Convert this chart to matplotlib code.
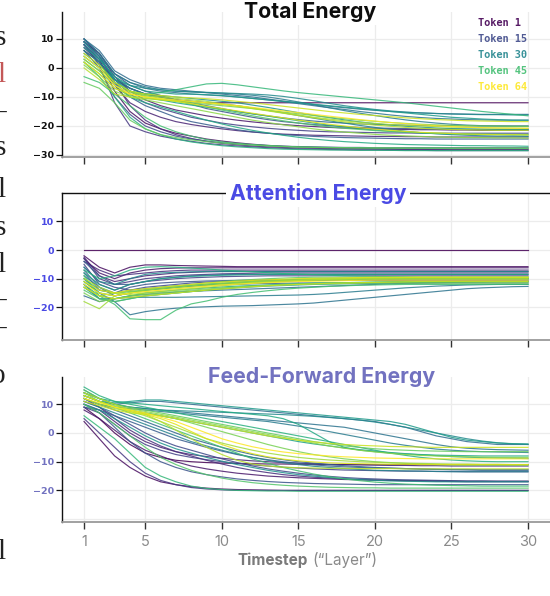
import matplotlib
matplotlib.use("Agg")
import matplotlib.pyplot as plt

# ---------------- data ----------------
LAYERS = list(range(1, 31))
TOKENS = [1, 3, 5, 7, 9, 11, 13, 15, 17, 19, 21, 23, 25, 27, 29, 31,
          33, 35, 37, 39, 41, 43, 45, 47, 49, 51, 53, 55, 57, 59, 61, 64]

TOTAL = [
    [6, 2, -4, -7, -9, -10, -11, -11.5, -12, -12, -12, -12, -12, -12, -12, -12, -12, -12, -12, -12, -12, -12, -12, -12, -12, -12, -12, -12, -12, -12],
    [8, 3, -8, -15, -19, -21, -22.5, -23.5, -24.5, -25.2, -25.8, -26.3, -26.7, -27, -27.2, -27.4, -27.5, -27.6, -27.7, -27.8, -27.8, -27.9, -27.9, -28, -28, -28, -28, -28, -28, -28],
    [9, 5, -3, -8, -11, -13, -14.5, -15.5, -16.5, -17.3, -18, -18.6, -19.1, -19.5, -19.9, -20.2, -20.5, -20.7, -20.9, -21, -21.1, -21.2, -21.3, -21.3, -21.4, -21.4, -21.5, -21.5, -21.5, -21.5],
    [7, 2, -6, -12, -15, -17, -18.5, -19.5, -20.3, -21, -21.6, -22.1, -22.5, -22.8, -23, -23.2, -23.3, -23.4, -23.5, -23.6, -23.6, -23.7, -23.7, -23.8, -23.8, -23.8, -23.8, -23.8, -23.8, -23.8],
    [10, 4, -5, -13, -18, -21, -23, -24.3, -25.3, -26, -26.5, -26.9, -27.2, -27.4, -27.6, -27.7, -27.8, -27.9, -28, -28, -28.1, -28.1, -28.1, -28.2, -28.2, -28.2, -28.2, -28.2, -28.2, -28.2],
    [8, 1, -12, -20, -22, -23.5, -24.5, -25.3, -26, -26.5, -26.9, -27.2, -27.5, -27.7, -27.9, -28, -28.1, -28.2, -28.3, -28.3, -28.4, -28.4, -28.4, -28.5, -28.5, -28.5, -28.5, -28.5, -28.5, -28.5],
    [9, 4, -4, -9, -12, -14, -15.5, -17, -18, -19, -19.7, -20.3, -20.8, -21.2, -21.5, -21.8, -22, -22.1, -22.2, -22.3, -22.4, -22.4, -22.5, -22.5, -22.5, -22.5, -22.5, -22.5, -22.5, -22.5],
    [6, 0, -10, -16, -20, -22, -23.5, -24.5, -25.2, -25.8, -26.2, -26.5, -26.8, -27, -27.1, -27.2, -27.3, -27.4, -27.4, -27.5, -27.5, -27.5, -27.5, -27.5, -27.5, -27.5, -27.5, -27.5, -27.5, -27.5],
    [10, 5, -2, -6, -8, -9.5, -11, -12.5, -14, -15, -16, -17, -17.8, -18.5, -19, -19.5, -19.9, -20.2, -20.5, -20.7, -20.8, -20.9, -21, -21.1, -21.1, -21.2, -21.2, -21.2, -21.2, -21.2],
    [8, 2, -5, -10, -13, -15, -17, -18.5, -19.5, -20.5, -21.3, -22, -22.5, -23, -23.3, -23.6, -23.8, -24, -24.1, -24.2, -24.3, -24.4, -24.4, -24.5, -24.5, -24.5, -24.5, -24.5, -24.5, -24.5],
    [9, 3, -4, -7, -9, -10, -11, -12, -13, -14, -15, -15.8, -16.5, -17.2, -17.8, -18.3, -18.7, -19, -19.3, -19.5, -19.6, -19.7, -19.8, -19.9, -19.9, -20, -20, -20, -20, -20],
    [10, 6, -1, -4, -6, -7, -7.5, -8, -8.5, -9, -9.5, -10, -10.7, -11.4, -12, -12.6, -13.2, -13.7, -14.2, -14.6, -15, -15.3, -15.5, -15.7, -15.8, -15.9, -16, -16, -16, -16],
    [9, 4, -2, -5, -7, -8, -8.5, -9, -9.3, -9.6, -10, -10.5, -11, -11.6, -12.3, -13, -13.7, -14.3, -15, -15.6, -16.2, -16.7, -17.1, -17.4, -17.6, -17.8, -17.9, -18, -18, -18],
    [10, 5, -2, -5, -6.5, -7.5, -8, -8.3, -8.5, -8.7, -9, -9.4, -10, -10.8, -11.7, -12.7, -13.7, -14.7, -15.6, -16.4, -17.2, -17.9, -18.5, -19, -19.4, -19.7, -19.9, -20, -20.1, -20.1],
    [8, 3, -3, -7, -9, -10, -11, -11.5, -12, -12.5, -13, -13.8, -14.6, -15.5, -16.4, -17.3, -18.2, -19, -19.8, -20.5, -21.2, -21.8, -22.3, -22.7, -23, -23.2, -23.4, -23.5, -23.5, -23.6],
    [9, 4, -4, -6, -7, -7.5, -8, -8.2, -8.4, -8.6, -8.8, -9, -9.3, -9.8, -10.5, -11.3, -12.2, -13, -13.7, -14.3, -14.8, -15.2, -15.5, -15.7, -15.9, -16, -16.1, -16.1, -16.2, -16.2],
    [6, 2, -5, -8, -9, -9.5, -10, -10.5, -11, -11.5, -12, -12.8, -13.6, -14.5, -15.4, -16.3, -17.1, -17.9, -18.6, -19.2, -19.7, -20.1, -20.4, -20.7, -20.9, -21, -21.1, -21.2, -21.2, -21.2],
    [7, 3, -3, -6, -8, -8.5, -9, -9, -9.2, -9.5, -10, -10.5, -11, -11.5, -12, -12.5, -13, -13.5, -14, -14.5, -15, -15.5, -16, -16.5, -17, -17.3, -17.6, -17.8, -18, -18],
    [5, 1, -4, -8, -10, -11, -12, -12.8, -13.5, -14.2, -15, -15.8, -16.6, -17.4, -18.2, -19, -19.7, -20.3, -20.9, -21.4, -21.8, -22.1, -22.4, -22.6, -22.8, -22.9, -23, -23, -23.1, -23.1],
    [3, -1, -6, -10, -12, -13.5, -15, -16.5, -18, -19.3, -20.5, -21.5, -22.4, -23.2, -23.9, -24.5, -25, -25.4, -25.7, -26, -26.2, -26.4, -26.5, -26.6, -26.7, -26.8, -26.8, -26.9, -26.9, -27],
    [2, -3, -10, -17, -21, -23, -24.5, -25.5, -26.2, -26.8, -27.2, -27.5, -27.8, -28, -28.1, -28.2, -28.3, -28.3, -28.4, -28.4, -28.4, -28.5, -28.5, -28.5, -28.5, -28.5, -28.5, -28.5, -28.5, -28.5],
    [4, 0, -5, -8, -9, -8.5, -7.5, -6.5, -5.5, -5.3, -5.8, -6.5, -7.2, -7.9, -8.5, -9, -9.5, -10, -10.5, -11, -11.5, -12, -12.6, -13.2, -13.8, -14.4, -15, -15.5, -16, -16.5],
    [-3, -5, -9, -13, -17, -20, -22, -23.5, -24.7, -25.5, -26, -26.4, -26.7, -27, -27.2, -27.3, -27.4, -27.5, -27.5, -27.6, -27.6, -27.7, -27.7, -27.7, -27.8, -27.8, -27.8, -27.8, -27.8, -27.8],
    [4, 0, -5, -8, -9.5, -10.5, -11.5, -12.5, -13.5, -14.5, -15.5, -16.5, -17.4, -18.2, -19, -19.7, -20.3, -20.8, -21.2, -21.6, -21.9, -22.1, -22.3, -22.5, -22.6, -22.7, -22.8, -22.8, -22.9, -22.9],
    [-5, -7, -12, -18, -21, -23, -24, -24.8, -25.4, -25.9, -26.3, -26.6, -26.9, -27.1, -27.3, -27.4, -27.5, -27.5, -27.6, -27.6, -27.6, -27.6, -27.6, -27.6, -27.6, -27.6, -27.6, -27.6, -27.6, -27.6],
    [2, -2, -7, -9.5, -10.5, -11, -11.5, -12, -12.5, -13, -13.5, -14, -14.6, -15.2, -15.8, -16.4, -17, -17.5, -18, -18.4, -18.8, -19.1, -19.4, -19.6, -19.8, -19.9, -20, -20, -20.1, -20.1],
    [1, -3, -8, -10, -11, -12, -13, -14, -15, -16, -17, -18, -18.8, -19.6, -20.3, -21, -21.6, -22.1, -22.5, -22.9, -23.2, -23.4, -23.6, -23.8, -23.9, -24, -24, -24.1, -24.1, -24.2],
    [3, -1, -6, -8.5, -9.5, -10, -10.5, -11, -11.5, -12.3, -13, -13.8, -14.6, -15.4, -16.2, -17, -17.6, -18.2, -18.7, -19.1, -19.5, -19.8, -20, -20.2, -20.4, -20.5, -20.6, -20.7, -20.7, -20.8],
    [0, -4, -9, -10, -10.5, -11, -11.3, -11.6, -12, -12.5, -13.2, -14, -14.8, -15.6, -16.4, -17.2, -17.9, -18.6, -19.2, -19.7, -20.1, -20.5, -20.8, -21, -21.2, -21.3, -21.4, -21.5, -21.5, -21.5],
    [5, 1, -5, -8, -9, -9.5, -10, -10.3, -10.6, -11, -11.5, -12, -12.6, -13.2, -13.8, -14.4, -15, -15.5, -16, -16.4, -16.8, -17.2, -17.5, -17.8, -18, -18.2, -18.3, -18.4, -18.5, -18.5],
    [2, -2, -7, -9, -10, -10.8, -11.5, -12.3, -13.2, -14, -14.8, -15.6, -16.4, -17.2, -18, -18.7, -19.4, -20, -20.6, -21.1, -21.5, -21.9, -22.2, -22.4, -22.6, -22.8, -22.9, -23, -23, -23.1],
    [4, 0, -6, -9, -10, -10.5, -11, -11.5, -12, -12.5, -13, -13.6, -14.2, -14.8, -15.4, -16, -16.6, -17.2, -17.8, -18.3, -18.8, -19.2, -19.6, -19.9, -20.2, -20.4, -20.6, -20.7, -20.8, -20.8],
]

ATTN = [
    [0, 0, 0, 0, 0, 0, 0, 0, 0, 0, 0, 0, 0, 0, 0, 0, 0, 0, 0, 0, 0, 0, 0, 0, 0, 0, 0, 0, 0, 0],
    [-2, -6, -8, -6, -5.2, -5.2, -5.4, -5.5, -5.6, -5.7, -5.8, -5.8, -5.8, -5.8, -5.8, -5.8, -5.8, -5.8, -5.8, -5.8, -5.8, -5.8, -5.8, -5.8, -5.8, -5.8, -5.8, -5.8, -5.8, -5.8],
    [-3, -8, -10, -8, -7, -6.5, -6.3, -6.2, -6.2, -6.2, -6.2, -6.2, -6.2, -6.2, -6.2, -6.2, -6.2, -6.2, -6.2, -6.2, -6.2, -6.2, -6.2, -6.2, -6.2, -6.2, -6.2, -6.2, -6.2, -6.2],
    [-2.5, -9, -11, -10, -9, -8.5, -8, -7.8, -7.6, -7.5, -7.5, -7.5, -7.5, -7.5, -7.5, -7.5, -7.5, -7.5, -7.5, -7.5, -7.5, -7.5, -7.5, -7.5, -7.5, -7.5, -7.5, -7.5, -7.5, -7.5],
    [-4, -7, -9, -8.5, -8, -7.5, -7.2, -7, -7, -7, -7, -7, -7, -7, -7, -7, -7, -7, -7, -7, -7, -7, -7, -7, -7, -7, -7, -7, -7, -7],
    [-3, -10, -12, -11, -10, -9.5, -9, -8.7, -8.5, -8.3, -8.2, -8.1, -8, -8, -8, -8, -8, -8, -8, -8, -8, -8, -8, -8, -8, -8, -8, -8, -8, -8],
    [-5, -12, -14, -12, -11, -10.5, -10, -9.7, -9.5, -9.3, -9.2, -9.1, -9, -9, -9, -9, -9, -9, -9, -9, -9, -9, -9, -9, -9, -9, -9, -9, -9, -9],
    [-6, -11, -13, -14, -13, -12.5, -12, -11.5, -11.2, -11, -10.8, -10.7, -10.6, -10.5, -10.5, -10.5, -10.5, -10.5, -10.5, -10.5, -10.5, -10.5, -10.5, -10.5, -10.5, -10.5, -10.5, -10.5, -10.5, -10.5],
    [-8, -14, -15, -13, -12, -11.5, -11.2, -11, -10.8, -10.7, -10.6, -10.5, -10.5, -10.5, -10.5, -10.5, -10.5, -10.5, -10.5, -10.5, -10.5, -10.5, -10.5, -10.5, -10.5, -10.5, -10.5, -10.5, -10.5, -10.5],
    [-4, -9, -12, -12, -11, -10, -9.5, -9, -8.8, -8.6, -8.5, -8.5, -8.5, -8.5, -8.5, -8.5, -8.5, -8.5, -8.5, -8.5, -8.5, -8.5, -8.5, -8.5, -8.5, -8.5, -8.5, -8.5, -8.5, -8.5],
    [-7, -13, -16, -15, -14, -13.5, -13, -12.7, -12.4, -12.2, -12, -11.8, -11.7, -11.6, -11.5, -11.5, -11.5, -11.5, -11.5, -11.5, -11.5, -11.5, -11.5, -11.5, -11.5, -11.5, -11.5, -11.5, -11.5, -11.5],
    [-16, -18, -17, -16, -15.5, -15, -14.7, -14.4, -14.2, -14, -13.8, -13.6, -13.4, -13.2, -13, -12.8, -12.6, -12.4, -12.2, -12, -11.8, -11.6, -11.5, -11.4, -11.3, -11.2, -11.1, -11, -11, -11],
    [-10, -15, -18, -22.6, -21.5, -20.8, -20.3, -20, -19.8, -19.6, -19.5, -19.4, -19.2, -19, -18.8, -18.5, -18, -17.5, -17, -16.5, -16, -15.5, -15, -14.5, -14, -13.5, -13.2, -13, -12.8, -12.7],
    [-12, -17, -17, -16.5, -16.5, -16.5, -16.5, -16.4, -16.3, -16.2, -16.1, -16, -15.9, -15.8, -15.7, -15.5, -15.2, -14.8, -14.4, -14, -13.6, -13.2, -12.9, -12.6, -12.4, -12.2, -12.1, -12, -12, -12],
    [-9, -13, -15, -14, -13.5, -13, -12.5, -12.2, -12, -11.8, -11.6, -11.4, -11.2, -11, -10.8, -10.6, -10.5, -10.4, -10.3, -10.2, -10.1, -10, -10, -10, -10, -10, -10, -10, -10, -10],
    [-6, -11, -12, -10, -8.5, -8, -7.8, -7.6, -7.5, -7.5, -7.5, -7.5, -7.5, -7.5, -7.5, -7.5, -7.5, -7.5, -7.5, -7.5, -7.5, -7.5, -7.5, -7.5, -7.5, -7.5, -7.5, -7.5, -7.5, -7.5],
    [-11, -15, -16, -15, -14, -13.5, -13, -12.5, -12, -11.7, -11.4, -11.2, -11, -10.8, -10.6, -10.5, -10.4, -10.3, -10.2, -10.1, -10, -10, -10, -10, -10, -10, -10, -10, -10, -10],
    [-13, -17, -18, -17, -16, -15.5, -15, -14.5, -14, -13.6, -13.2, -12.9, -12.6, -12.4, -12.2, -12, -11.9, -11.8, -11.7, -11.6, -11.5, -11.4, -11.3, -11.2, -11.2, -11.1, -11.1, -11, -11, -11],
    [-8, -12, -14, -12, -11, -10, -9.5, -9.2, -9, -8.8, -8.7, -8.6, -8.5, -8.5, -8.5, -8.5, -8.5, -8.5, -8.5, -8.5, -8.5, -8.5, -8.5, -8.5, -8.5, -8.5, -8.5, -8.5, -8.5, -8.5],
    [-12, -16, -17, -16, -15, -14.5, -14, -13.6, -13.2, -12.9, -12.6, -12.4, -12.2, -12, -11.8, -11.6, -11.5, -11.4, -11.3, -11.2, -11.1, -11, -11, -11, -11, -11, -11, -11, -11, -11],
    [-7, -10, -9, -7, -6, -5.8, -6, -6.3, -6.6, -7, -7.3, -7.6, -7.9, -8.2, -8.4, -8.6, -8.8, -9, -9.1, -9.2, -9.3, -9.4, -9.5, -9.5, -9.5, -9.5, -9.5, -9.5, -9.5, -9.5],
    [-10, -14, -15, -14.5, -14, -13.5, -13, -12.5, -12, -11.6, -11.2, -10.9, -10.6, -10.4, -10.2, -10, -10, -10, -10, -10, -10, -10, -10, -10, -10, -10, -10, -10, -10, -10],
    [-9, -16, -19, -24, -24.3, -24.3, -21, -18.8, -17.8, -16.5, -15.5, -14.8, -14.2, -13.7, -13.3, -13, -12.7, -12.5, -12.3, -12.2, -12.1, -12, -12, -12, -12, -12, -12, -12, -12, -12],
    [-14, -17, -18, -17, -16, -15.5, -15, -14.5, -14, -13.5, -13, -12.6, -12.3, -12, -11.8, -11.6, -11.5, -11.4, -11.3, -11.2, -11.1, -11, -11, -11, -11, -11, -11, -11, -11, -11],
    [-11, -15, -16, -15, -14, -13, -12.5, -12, -11.5, -11, -10.6, -10.3, -10, -9.8, -9.6, -9.5, -9.5, -9.5, -9.5, -9.5, -9.5, -9.5, -9.5, -9.5, -9.5, -9.5, -9.5, -9.5, -9.5, -9.5],
    [-15, -18, -17, -16, -15.5, -15, -14.5, -14, -13.6, -13.2, -12.9, -12.6, -12.4, -12.2, -12, -11.9, -11.8, -11.7, -11.6, -11.5, -11.5, -11.5, -11.5, -11.5, -11.5, -11.5, -11.5, -11.5, -11.5, -11.5],
    [-13, -16, -15, -14.5, -14, -13.5, -13, -12.5, -12, -11.6, -11.3, -11, -10.8, -10.6, -10.4, -10.3, -10.2, -10.1, -10, -10, -10, -10, -10, -10, -10, -10, -10, -10, -10, -10],
    [-18, -20.5, -16, -15, -14.5, -14, -13.5, -13, -12.5, -12, -11.6, -11.3, -11, -10.8, -10.6, -10.5, -10.4, -10.3, -10.2, -10.1, -10, -10, -10, -10, -10, -10, -10, -10, -10, -10],
    [-10, -13, -15, -15.5, -15, -14.5, -14, -13.5, -13, -12.5, -12, -11.6, -11.2, -10.9, -10.6, -10.4, -10.2, -10, -9.9, -9.8, -9.7, -9.6, -9.5, -9.5, -9.5, -9.5, -9.5, -9.5, -9.5, -9.5],
    [-13, -16, -17, -16.5, -16, -15.5, -15, -14.5, -14, -13.6, -13.2, -12.8, -12.5, -12.2, -12, -11.8, -11.6, -11.5, -11.4, -11.3, -11.2, -11.1, -11, -11, -11, -11, -11, -11, -11, -11],
    [-11, -14, -15, -14, -13.5, -13, -12.5, -12, -11.5, -11.2, -10.9, -10.6, -10.4, -10.2, -10, -9.9, -9.8, -9.7, -9.6, -9.5, -9.5, -9.5, -9.5, -9.5, -9.5, -9.5, -9.5, -9.5, -9.5, -9.5],
    [-12, -15, -16, -15, -14.5, -14, -13.5, -13, -12.6, -12.2, -11.9, -11.6, -11.4, -11.2, -11, -10.9, -10.8, -10.7, -10.6, -10.5, -10.5, -10.5, -10.5, -10.5, -10.5, -10.5, -10.5, -10.5, -10.5, -10.5],
]

FF = [
    [9, 5, 0, -4, -7, -8.5, -9.5, -10, -10.3, -10.5, -10.6, -10.7, -10.8, -10.8, -10.9, -10.9, -11, -11, -11, -11, -11, -11, -11, -11, -11, -11, -11, -11, -11, -11],
    [4, -2, -8, -12, -15, -17, -18, -18.7, -19.2, -19.5, -19.7, -19.8, -19.9, -20, -20, -20, -20, -20, -20, -20, -20, -20, -20, -20, -20, -20, -20, -20, -20, -20],
    [8, 5, 1, -3, -6, -8, -10, -11.5, -12.5, -13.3, -14, -14.5, -15, -15.3, -15.6, -15.8, -16, -16.2, -16.3, -16.4, -16.5, -16.6, -16.6, -16.7, -16.7, -16.8, -16.8, -16.8, -16.8, -16.8],
    [10, 8, 4, 0, -3, -5, -6.5, -7.5, -8.2, -8.8, -9.3, -9.7, -10, -10.3, -10.5, -10.7, -10.9, -11, -11.1, -11.2, -11.3, -11.3, -11.4, -11.4, -11.5, -11.5, -11.5, -11.5, -11.5, -11.5],
    [12, 9, 5, 1, -2, -4.5, -6.5, -8, -9.5, -10.8, -12, -13, -13.8, -14.5, -15, -15.4, -15.7, -16, -16.2, -16.4, -16.5, -16.6, -16.7, -16.8, -16.9, -17, -17, -17, -17, -17],
    [5, 0, -5, -10, -14, -16.5, -18, -19, -19.5, -19.8, -20, -20, -20, -20, -20, -20, -20, -20, -20, -20, -20, -20, -20, -20, -20, -20, -20, -20, -20, -20],
    [9, 7, 3, -1, -4, -6, -7.5, -8.5, -9.3, -10, -10.6, -11.1, -11.5, -11.9, -12.2, -12.5, -12.7, -12.9, -13, -13.1, -13.2, -13.3, -13.3, -13.4, -13.4, -13.5, -13.5, -13.5, -13.5, -13.5],
    [11, 9, 6, 3, 0, -2.5, -4.5, -6, -7.5, -9, -10.3, -11.5, -12.5, -13.3, -14, -14.6, -15.1, -15.5, -15.8, -16, -16.2, -16.3, -16.4, -16.5, -16.6, -16.7, -16.7, -16.8, -16.8, -16.8],
    [10, 7, 2, -3, -7, -10, -12, -13.5, -14.5, -15.3, -16, -16.5, -16.9, -17.2, -17.4, -17.6, -17.7, -17.8, -17.9, -18, -18, -18, -18, -18, -18, -18, -18, -18, -18, -18],
    [9, 8, 6, 4, 2, 0, -2, -3.5, -5, -6.3, -7.5, -8.5, -9.3, -10, -10.6, -11.1, -11.5, -11.8, -12, -12.2, -12.3, -12.4, -12.5, -12.6, -12.7, -12.7, -12.8, -12.8, -12.8, -12.8],
    [12, 10, 8, 6, 4, 2, 0, -2, -3.5, -5, -6.3, -7.5, -8.5, -9.3, -10, -10.5, -11, -11.4, -11.7, -12, -12.2, -12.4, -12.6, -12.7, -12.8, -12.9, -13, -13, -13, -13],
    [13, 11, 10, 10.5, 11, 11, 10.5, 10, 9.5, 9, 8.5, 8, 7.5, 7, 6.5, 6, 5.5, 5, 4.5, 4, 3, 2, 0.5, -1, -2, -3, -3.5, -4, -4, -4],
    [14, 12, 10, 9, 8.5, 8, 7.5, 7, 6.5, 6, 5.5, 5, 4.5, 4, 3.5, 3, 2.5, 2, 1, 0, -1, -2, -3, -4, -4.8, -5.3, -5.6, -5.8, -5.9, -6],
    [12, 10, 9, 8.5, 8, 7.5, 7, 6.5, 6, 5.5, 5, 4.5, 4, 3.2, 2.4, 1.5, 0.5, -0.5, -1.5, -2.5, -3.5, -4.3, -5, -5.6, -6, -6.3, -6.5, -6.6, -6.7, -6.8],
    [11, 9, 7, 5, 3, 1, -1, -3, -4.5, -6, -7.3, -8.5, -9.5, -10.3, -11, -11.6, -12, -12.4, -12.7, -13, -13.1, -13.2, -13.3, -13.4, -13.5, -13.5, -13.5, -13.5, -13.5, -13.5],
    [15, 12, 10, 9, 8.5, 8, 7.8, 7.6, 7.4, 7.2, 7, 6.8, 6.6, 6.4, 6.1, 5.8, 5.4, 5, 4.5, 3.8, 3, 2, 1, 0, -1, -2, -2.8, -3.4, -3.8, -4],
    [10, 8, 5, 2, -1, -3.5, -5.5, -7, -8.5, -9.8, -11, -12, -13, -13.8, -14.5, -15, -15.5, -15.9, -16.2, -16.5, -16.7, -16.8, -16.9, -17, -17, -17, -17, -17, -17, -17],
    [13, 11, 10.5, 11, 11.5, 11.5, 11, 10.5, 10, 9.5, 9, 8.5, 8, 7.5, 7, 6.5, 6, 5.5, 5, 4.5, 4, 3, 1.5, 0, -1.5, -2.5, -3, -3.5, -3.7, -3.8],
    [12, 10, 9, 8, 7, 6, 5, 4, 3, 2, 1, 0, -1, -2, -3, -3.8, -4.5, -5.2, -5.8, -6.3, -6.8, -7.2, -7.6, -7.9, -8.2, -8.4, -8.6, -8.7, -8.8, -8.9],
    [14, 12, 11, 10.5, 10, 9.5, 9, 8.5, 8, 7.5, 7, 6.5, 6, 5, 3, 0, -3, -5, -6, -6.5, -7, -7.3, -7.5, -7.7, -7.8, -7.9, -8, -8, -8, -8],
    [16, 13, 11, 10, 9, 8, 7, 6, 5, 4, 3, 2, 1, 0, -1, -2, -3, -4, -5, -6, -7, -7.8, -8.5, -9, -9.4, -9.7, -9.9, -10, -10, -10],
    [6, 2, -2, -7, -12, -15, -17, -18.5, -19.3, -19.7, -20, -20.1, -20.2, -20.2, -20.3, -20.3, -20.3, -20.3, -20.3, -20.3, -20.3, -20.3, -20.3, -20.3, -20.3, -20.3, -20.3, -20.3, -20.3, -20.3],
    [13, 11, 9, 7, 5, 3, 1, -1, -3, -5, -7, -9, -10.5, -12, -13.2, -14.3, -15.2, -16, -16.6, -17.1, -17.5, -17.8, -18, -18.2, -18.3, -18.4, -18.5, -18.5, -18.5, -18.5],
    [10, 7, 3, -1, -5, -8.5, -11, -13, -14.5, -15.7, -16.6, -17.3, -17.8, -18.2, -18.5, -18.7, -18.9, -19, -19.1, -19.1, -19.2, -19.2, -19.2, -19.2, -19.2, -19.2, -19.2, -19.2, -19.2, -19.2],
    [15, 12, 10, 9, 8, 7, 6, 5, 4, 3, 2, 1, 0, -1, -2, -3, -3.8, -4.5, -5, -5.5, -5.8, -6, -6.2, -6.3, -6.4, -6.5, -6.5, -6.5, -6.5, -6.5],
    [14, 11, 9, 8, 7, 6, 5, 3.5, 2, 0.5, -1, -2.5, -4, -5.3, -6.5, -7.5, -8.3, -9, -9.5, -10, -10.3, -10.6, -10.8, -11, -11.1, -11.2, -11.2, -11.2, -11.2, -11.2],
    [13, 11, 9.5, 8.5, 7.5, 6.5, 5.5, 4.5, 3.5, 2.5, 1.5, 0.5, -0.5, -1.5, -2.5, -3.5, -4.5, -5.3, -6, -6.6, -7.1, -7.5, -7.8, -8, -8.2, -8.3, -8.4, -8.5, -8.5, -8.5],
    [12, 10, 8.5, 7.5, 6, 4, 2, 0, -2, -3.5, -4.8, -6, -7, -7.8, -8.5, -9, -9.4, -9.7, -10, -10.2, -10.4, -10.5, -10.6, -10.7, -10.8, -10.8, -10.9, -10.9, -11, -11],
    [14, 12, 10, 8, 6.5, 4, 1, -2, -5, -7.5, -9.5, -10.8, -11.5, -11.9, -12.1, -12.2, -12.3, -12.3, -12.4, -12.4, -12.4, -12.5, -12.5, -12.5, -12.5, -12.5, -12.5, -12.5, -12.5, -12.5],
    [11, 9.5, 8, 7, 6.5, 6, 5, 4, 3, 2, 1, 0, -1, -1.8, -2.5, -3.1, -3.6, -4, -4.3, -4.5, -4.7, -4.8, -4.9, -5, -5, -5, -5, -5, -5, -5],
    [13, 11, 9, 7.5, 6.5, 5, 3, 0.5, -2, -4, -5.8, -7.2, -8.3, -9.1, -9.7, -10.1, -10.4, -10.6, -10.7, -10.8, -10.9, -10.9, -11, -11, -11, -11, -11, -11, -11, -11],
    [12, 10.5, 9, 8, 7, 5.5, 4, 2, 0, -2, -3.5, -4.8, -5.8, -6.6, -7.2, -7.6, -8, -8.3, -8.5, -8.7, -8.8, -8.9, -9, -9, -9, -9, -9, -9, -9, -9],
]

PANEL_TITLES = ["Total Energy", "Attention Energy", "Feed-Forward Energy"]
TITLE_COLORS = ["#0d0d0d", "#4a4ae4", "#7272c0"]
LEGEND_TOKENS = [1, 15, 30, 45, 64]
X_TICKS = [1, 5, 10, 15, 20, 25, 30]
Y_TICKS = [[-30, -20, -10, 0, 10], [-20, -10, 0, 10], [-20, -10, 0, 10]]
Y_GRID = [[-30, -20, -10, 0, 10], [-20, -10, 0, 10], [-30, -20, -10, 0, 10]]
# cropped fragments of the neighbouring page text at the left edge
SIDE_TEXT = [("s", 45, "#222222"), ("l", 82, "#c45858"), ("\u2013", 120, "#222222"),
             ("s", 155, "#222222"), ("l", 197, "#222222"), ("s", 235, "#222222"),
             ("l", 272, "#222222"), ("\u2013", 308, "#222222"), ("\u2013", 336, "#222222"),
             ("o", 383, "#222222"), ("l", 559, "#222222")]

# ---------------- figure ----------------
W, H = 550, 596
fig = plt.figure(figsize=(W / 100, H / 100), dpi=100)
cmap = plt.get_cmap("viridis")

AX_LEFT, AX_RIGHT = 62, 575
PANEL_PIX = [(12, 157), (193, 340), (377, 522)]
YLIMS = [(-30.7, 19.3), (-31.4, 19.9), (-31.0, 19.5)]
TITLE_X = [310, 318, 322]
XLIM = (-0.44, 33.07)

for i, data in enumerate([TOTAL, ATTN, FF]):
    top, bot = PANEL_PIX[i]
    ax = fig.add_axes([AX_LEFT / W, 1 - bot / H, (AX_RIGHT - AX_LEFT) / W, (bot - top) / H])
    ax.set_xlim(*XLIM)
    ax.set_ylim(*YLIMS[i])
    for yv in Y_GRID[i]:
        ax.axhline(yv, color="#ececec", lw=0.9, zorder=0)
    for xv in X_TICKS:
        ax.axvline(xv, color="#ececec", lw=0.9, zorder=0)
    for t, row in zip(TOKENS, data):
        if len(row) != len(LAYERS):
            print("length mismatch", i, t, len(row))
        ax.plot(LAYERS[:len(row)], row, color=cmap((t - 1) / 63), lw=0.85, alpha=0.85, zorder=2)
    ax.set_xticks(X_TICKS)
    ax.set_yticks(Y_TICKS[i])
    ax.set_yticklabels([("\u2212" + str(-v)) if v < 0 else str(v) for v in Y_TICKS[i]],
                       fontsize=6.8, fontweight="bold", color=TITLE_COLORS[i] if i else "#111111",
                       family="DejaVu Sans")
    ax.tick_params(axis="y", length=4, width=0.9, color="#111111", pad=2)
    ax.tick_params(axis="x", length=5, width=1.0, color="#333333", pad=4)
    if i == 2:
        ax.set_xticklabels([str(v) for v in X_TICKS], fontsize=10.5, color="#8a8a8a",
                           family=["Inter", "DejaVu Sans"])
    else:
        ax.set_xticklabels([])
    ax.spines["right"].set_visible(False)
    ax.spines["top"].set_visible(i == 1)
    ax.spines["top"].set_color("#111111")
    ax.spines["top"].set_linewidth(1.0)
    ax.spines["left"].set_color("#111111")
    ax.spines["left"].set_linewidth(1.0)
    ax.spines["bottom"].set_color("#9a9a9a")
    ax.spines["bottom"].set_linewidth(1.3)
    ax.text((TITLE_X[i] - AX_LEFT) / (AX_RIGHT - AX_LEFT), 1.0, PANEL_TITLES[i],
            transform=ax.transAxes, ha="center", va="center", fontsize=15.3,
            fontweight="bold", color=TITLE_COLORS[i], family=["Inter", "DejaVu Sans"],
            bbox=dict(facecolor="white", edgecolor="none", pad=2.5), zorder=10, clip_on=False)

# legend (text only)
for k, t in enumerate(LEGEND_TOKENS):
    fig.text(478 / W, 1 - (23 + 16 * k) / H, f"Token {t}", ha="left", va="center",
             fontsize=7.4, fontweight="bold", family="DejaVu Sans Mono",
             color=cmap((t - 1) / 63), alpha=0.9)

# x axis label
fig.text(308 / W, 1 - 560 / H, "Timestep", ha="right", va="center", fontsize=11,
         fontweight="bold", color="#7a7a7a", family=["Inter", "DejaVu Sans"])
fig.text(312 / W, 1 - 560 / H, "(\u201cLayer\u201d)", ha="left", va="center", fontsize=11,
         color="#8a8a8a", family=["Inter", "DejaVu Sans"])

# page text fragments at left edge (cropped in the reference as well)
for ch, base, col in SIDE_TEXT:
    fig.text(6 / W, 1 - base / H, ch, ha="right", va="baseline", fontsize=21,
             color=col, family=["Liberation Serif", "DejaVu Serif"])

fig.savefig("out.png", dpi=100)
